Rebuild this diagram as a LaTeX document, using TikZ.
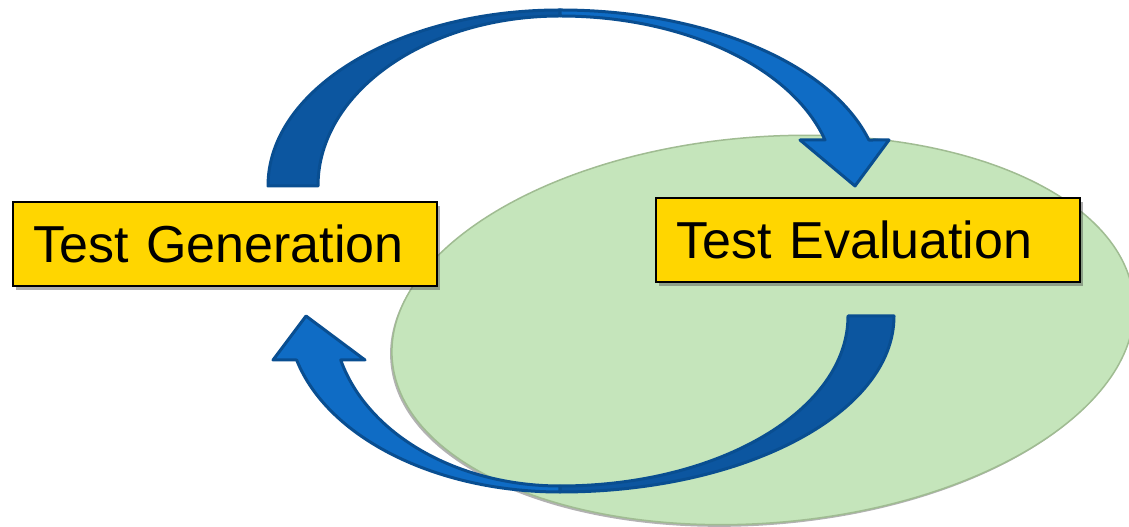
\documentclass[tikz,border=0pt]{standalone}
\usepackage{fontspec}
\setmainfont{Liberation Sans}
\usetikzlibrary{shadows}
\definecolor{boxgold}{RGB}{255,214,0}
\definecolor{leafgreen}{RGB}{197,229,187}
\definecolor{leafedge}{RGB}{160,188,146}
\definecolor{arrowback}{RGB}{12,86,160}
\definecolor{arrowfront}{RGB}{15,108,197}
\definecolor{arrowedge}{RGB}{9,78,145}
\tikzset{
  stagebox/.style={draw=black, line width=1.5pt, fill=boxgold, anchor=west,
    minimum height=84pt, text width=382pt, align=left, inner xsep=21pt,
    text height=37pt, text depth=0pt,
    font=\fontsize{52}{60}\selectfont,
    drop shadow={shadow xshift=3pt, shadow yshift=-4pt, opacity=0.45, fill=black!70}},
  bandback/.style={fill=arrowback, draw=arrowedge, line width=3pt, line join=round},
  bandfront/.style={fill=arrowfront, draw=arrowedge, line width=3pt, line join=round},
}
\begin{document}
\begin{tikzpicture}[x=1pt, y=1pt]
\useasboundingbox (0,0) rectangle (1129,527);
\fill[white] (0,0) rectangle (1129,527);

% evaluation region
\fill[black!30, rotate around={4.6:(763,197)}] (761,195) ellipse [x radius=372, y radius=193];
\draw[fill=leafgreen, draw=leafedge, line width=1.5pt, rotate around={4.6:(763,197)}]
  (763,197) ellipse [x radius=372, y radius=193];

% the two stages
\node[stagebox] (gen) at (12,283) {Test Generation};
\node[stagebox] (eval) at (655,287) {Test Evaluation};

% forward loop: generation -> evaluation
\coordinate (topc) at (560,341);
\draw[bandback] (268,341) arc[start angle=180, end angle=90, x radius=292, y radius=176]
  -- (560,511) arc[start angle=90, end angle=180, x radius=242, y radius=170] -- cycle;
\draw[bandfront] (560,517) arc[start angle=90, end angle=15.15, x radius=320, y radius=176]
  -- (889,387) -- (855,341) -- (800,387) -- (825,387)
  arc[start angle=15.7, end angle=90, x radius=275, y radius=170] -- cycle;

% feedback loop: evaluation -> generation
\draw[bandback] (894,211) arc[start angle=0, end angle=-90, x radius=334, y radius=176]
  -- (560,41) arc[start angle=-90, end angle=0, x radius=288, y radius=170] -- cycle;
\draw[bandfront] (560,35) arc[start angle=270, end angle=194.48, x radius=272, y radius=176]
  -- (273,167) -- (306,211) -- (365,167) -- (340.7,167)
  arc[start angle=195, end angle=270, x radius=227, y radius=170] -- cycle;
\end{tikzpicture}
\end{document}
